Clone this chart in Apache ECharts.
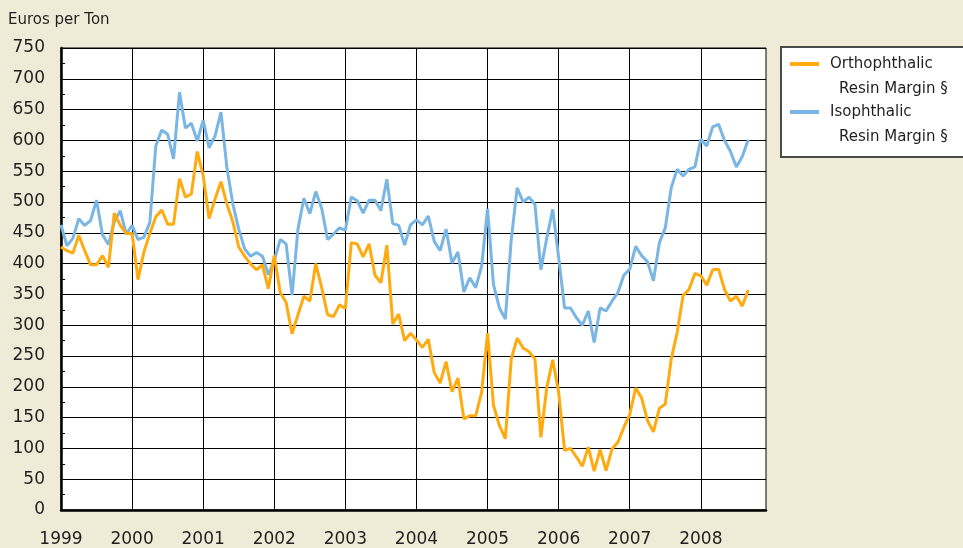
<!DOCTYPE html>
<html><head><meta charset="utf-8">
<script src="https://cdn.jsdelivr.net/npm/echarts@6/dist/echarts.min.js"></script>
<style>html,body{margin:0;padding:0;background:#f0ebd6;}#c{width:963px;height:548px;}</style>
</head><body><div id="c"></div>
<script>
const yearLabels = ['1999','2000','2001','2002','2003','2004','2005','2006','2007','2008'];
const monthNames = ['Jan','Feb','Mar','Apr','May','Jun','Jul','Aug','Sep','Oct','Nov','Dec'];
const seriesNames = ['Orthophthalic Resin Margin §', 'Isophthalic Resin Margin §'];
// Euros per ton, monthly from Jan 1999 to Sep 2008
const orthoMargin = [
  427,421,417,446,421,398,398,413,394,482,462,449,
  449,374,419,449,476,487,464,464,538,508,513,582,
  543,473,505,533,497,468,427,412,399,390,398,359,
  413,353,337,286,317,347,339,400,361,317,314,333,
  327,434,432,411,432,381,369,430,302,318,275,287,
  276,264,277,223,206,241,192,214,148,153,153,191,
  287,170,137,116,245,279,263,257,245,118,199,244,
  191,97,100,86,71,102,63,98,64,99,110,134,
  155,198,182,145,127,165,172,245,288,348,358,384,
  380,365,390,391,358,339,347,331,357
];
const isoMargin = [
  463,429,441,473,462,470,503,447,431,468,486,448,
  462,439,443,467,591,617,610,570,678,620,628,599,
  633,588,607,646,556,497,456,424,412,418,412,382,
  405,439,432,349,456,506,481,517,490,439,448,458,
  454,508,502,482,503,503,486,537,465,462,430,463,
  471,463,477,436,421,456,401,419,354,377,361,396,
  489,366,328,310,439,523,500,508,496,390,442,488,
  410,328,328,312,300,323,272,328,323,339,353,381,
  391,428,413,403,372,434,458,523,553,542,553,557,
  602,591,622,626,600,582,557,574,601
];
const categories = [];
yearLabels.forEach(y => monthNames.forEach(m => categories.push(m + ' ' + y)));

const FONT = 'DejaVu Sans';
const TXT = '#231f20';
const chart = echarts.init(document.getElementById('c'), null, {renderer: 'canvas'});
function legendRich() {
  return {
    z: {fontFamily: FONT, fontSize: 15, lineHeight: 25, color: TXT},
    a: {fontFamily: FONT, fontSize: 15, lineHeight: 25, color: TXT, padding: [0,0,0,6]},
    b: {fontFamily: FONT, fontSize: 15, lineHeight: 25, color: TXT, padding: [0,0,0,15]}
  };
}
function legendFmt(name) {
  const parts = name.split(' Resin');
  return '{z| }\n{a|' + parts[0] + '}\n{b|Resin' + parts[1] + '}';
}
chart.setOption({
  backgroundColor: '#f0ebd6',
  animation: false,
  title: {text: 'Euros per Ton', left: 8, top: 13, padding: 0,
    textStyle: {fontFamily: FONT, fontSize: 15, fontWeight: 'normal', color: TXT}},
  graphic: [{type: 'rect', z: 1, shape: {x: 781, y: 47, width: 200, height: 110},
    style: {fill: '#ffffff', stroke: '#4a4a4a', lineWidth: 2}}],
  legend: [
    {data: [seriesNames[0]], left: 790, top: 31.5, padding: 0, z: 5, itemWidth: 29, itemHeight: 4,
      icon: 'rect', formatter: legendFmt, textStyle: {rich: legendRich()}, selectedMode: false},
    {data: [seriesNames[1]], left: 790, top: 79.5, padding: 0, z: 5, itemWidth: 29, itemHeight: 4,
      icon: 'rect', formatter: legendFmt, textStyle: {rich: legendRich()}, selectedMode: false}
  ],
  grid: {left: 61, right: 197, top: 48, bottom: 37.5, show: true, backgroundColor: '#ffffff',
    borderColor: '#000', borderWidth: 1},
  xAxis: {
    type: 'category', data: categories, boundaryGap: false,
    axisLine: {lineStyle: {color: '#000', width: 2.5}},
    axisTick: {show: false},
    axisLabel: {interval: 11, margin: 21, fontFamily: FONT, fontSize: 17, color: TXT,
      formatter: (v, i) => yearLabels[Math.floor(i / 12)]},
    splitLine: {show: true, interval: 11, lineStyle: {color: '#000', width: 1}}
  },
  yAxis: {
    type: 'value', min: 0, max: 750, interval: 50,
    axisLine: {show: true, lineStyle: {color: '#000', width: 2.5}},
    axisTick: {show: true, inside: true, length: 4, lineStyle: {color: '#000'}},
    minorTick: {show: true, splitNumber: 2, length: 4, lineStyle: {color: '#000'}},
    axisLabel: {margin: 16, fontFamily: FONT, fontSize: 17, color: TXT},
    splitLine: {show: true, lineStyle: {color: '#000', width: 1}}
  },
  series: [
    {name: seriesNames[0], type: 'line', data: orthoMargin, showSymbol: false, symbol: 'none', z: 4,
      color: '#ffab10', lineStyle: {width: 3, color: '#ffab10'}},
    {name: seriesNames[1], type: 'line', data: isoMargin, showSymbol: false, symbol: 'none', z: 3,
      color: '#7ab6e4', lineStyle: {width: 3, color: '#7ab6e4'}}
  ]
});
</script></body></html>
